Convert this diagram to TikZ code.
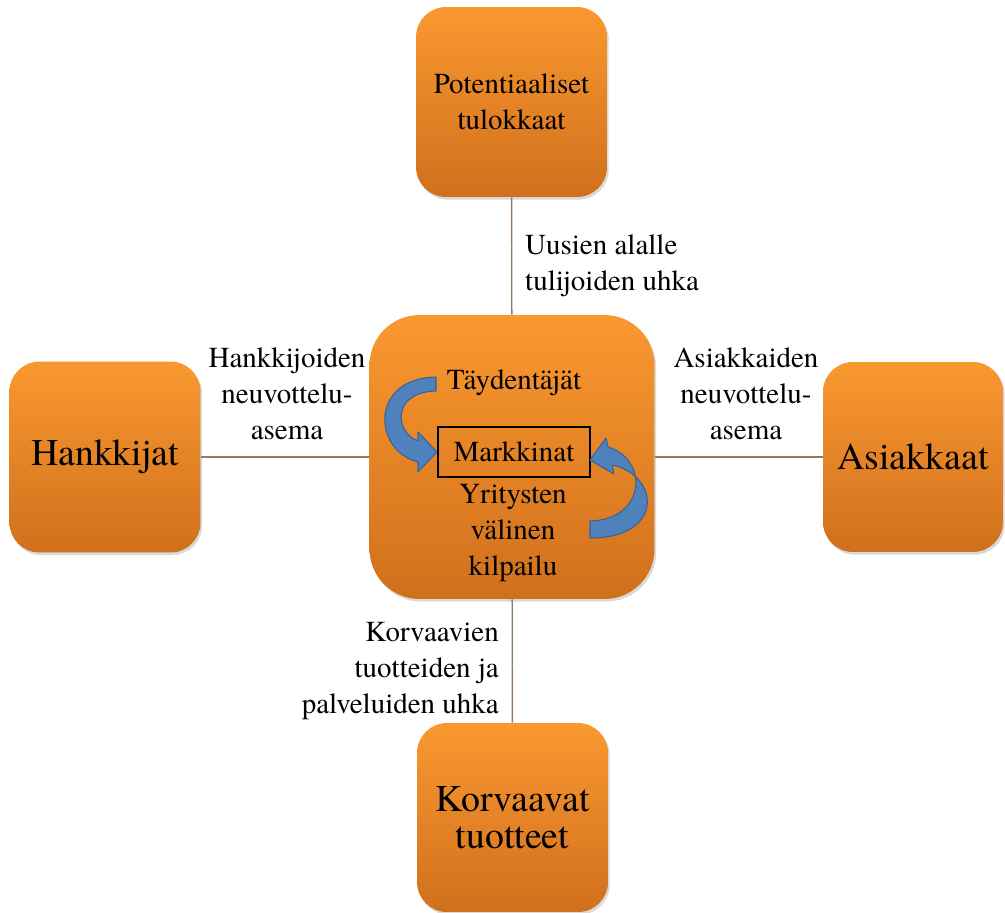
\documentclass[tikz,border=0pt]{standalone}
\usepackage{fontspec}
\setmainfont{texgyretermes-regular.otf}
\usetikzlibrary{shadows}

\definecolor{orTop}{RGB}{250,152,48}
\definecolor{orBot}{RGB}{208,112,28}
\definecolor{linkc}{RGB}{150,122,95}
\definecolor{arrfill}{RGB}{79,129,189}
\definecolor{arrline}{RGB}{56,98,150}

\tikzset{
  box/.style={rounded corners=0.6cm,top color=orTop,bottom color=orBot,draw=none,
    drop shadow={opacity=0.3,shadow xshift=1pt,shadow yshift=-1.5pt},
    align=center,inner sep=0pt},
  smalltxt/.style={font=\fontsize{16.5}{20.5}\selectfont},
  bigtxt/.style={font=\fontsize{21.5}{21}\selectfont},
  link/.style={draw=linkc,line width=0.8pt},
  bendarrow/.style={fill=arrfill,draw=arrline,line width=0.6pt,line join=round},
}

\begin{document}
\begin{tikzpicture}[x=0.02cm,y=-0.02cm]
\useasboundingbox (0,0) rectangle (1005,913);
% boxes
\node[box,smalltxt,minimum width=3.82cm,minimum height=3.8cm] (tulokkaat) at (511.5,102) {Potentiaaliset\\tulokkaat};
\node[box,bigtxt,minimum width=3.82cm,minimum height=3.82cm] (hankkijat) at (105,457) {Hankkijat};
\node[box,bigtxt,minimum width=3.6cm,minimum height=3.8cm] (asiakkaat) at (913,457) {Asiakkaat};
\node[box,bigtxt,minimum width=3.82cm,minimum height=3.78cm] (korvaavat) at (512.5,817.5) {Korvaavat\\tuotteet};
\node[box,rounded corners=1cm,minimum width=5.7cm,minimum height=5.68cm] (markkinat-alue) at (512,457) {};
% connectors
\draw[link] (tulokkaat) -- (markkinat-alue);
\draw[link] (hankkijat) -- (markkinat-alue);
\draw[link] (asiakkaat) -- (markkinat-alue);
\draw[link] (korvaavat) -- (markkinat-alue);
% labels of the forces
\node[smalltxt,align=left,anchor=west] (uhka-tulijat) at (519,266) {Uusien alalle\\tulijoiden uhka};
\node[smalltxt,align=center] (neuvottelu-h) at (287,394) {Hankkijoiden\\neuvottelu-\\asema};
\node[smalltxt,align=center] (neuvottelu-a) at (746,394) {Asiakkaiden\\neuvottelu-\\asema};
\node[smalltxt,align=right,anchor=east] (uhka-korv) at (505,671) {Korvaavien\\tuotteiden ja\\palveluiden uhka};
% inside the market
\node[smalltxt,draw,line width=0.8pt,minimum width=3.04cm,minimum height=1cm,inner sep=0pt] (markkinat) at (514,452) {Markkinat};
\node[smalltxt] (taydentajat) at (514,383) {Täydentäjät};
\node[smalltxt,align=center] (kilpailu) at (513,533) {Yritysten\\välinen\\kilpailu};
% curved arrows
\draw[bendarrow] (436,377) .. controls (370,378) and (372,450) .. (418,462)
  -- (418,472) -- (437,452) -- (418,432) -- (418,441)
  .. controls (394,432) and (392,392) .. (436,391) -- cycle;
\draw[bendarrow] (590,538) .. controls (665,538) and (660,475) .. (612,465)
  -- (614,474) -- (590,460) -- (606,438) -- (608,447)
  .. controls (650,460) and (645,520) .. (590,521) -- cycle;
\end{tikzpicture}
\end{document}
